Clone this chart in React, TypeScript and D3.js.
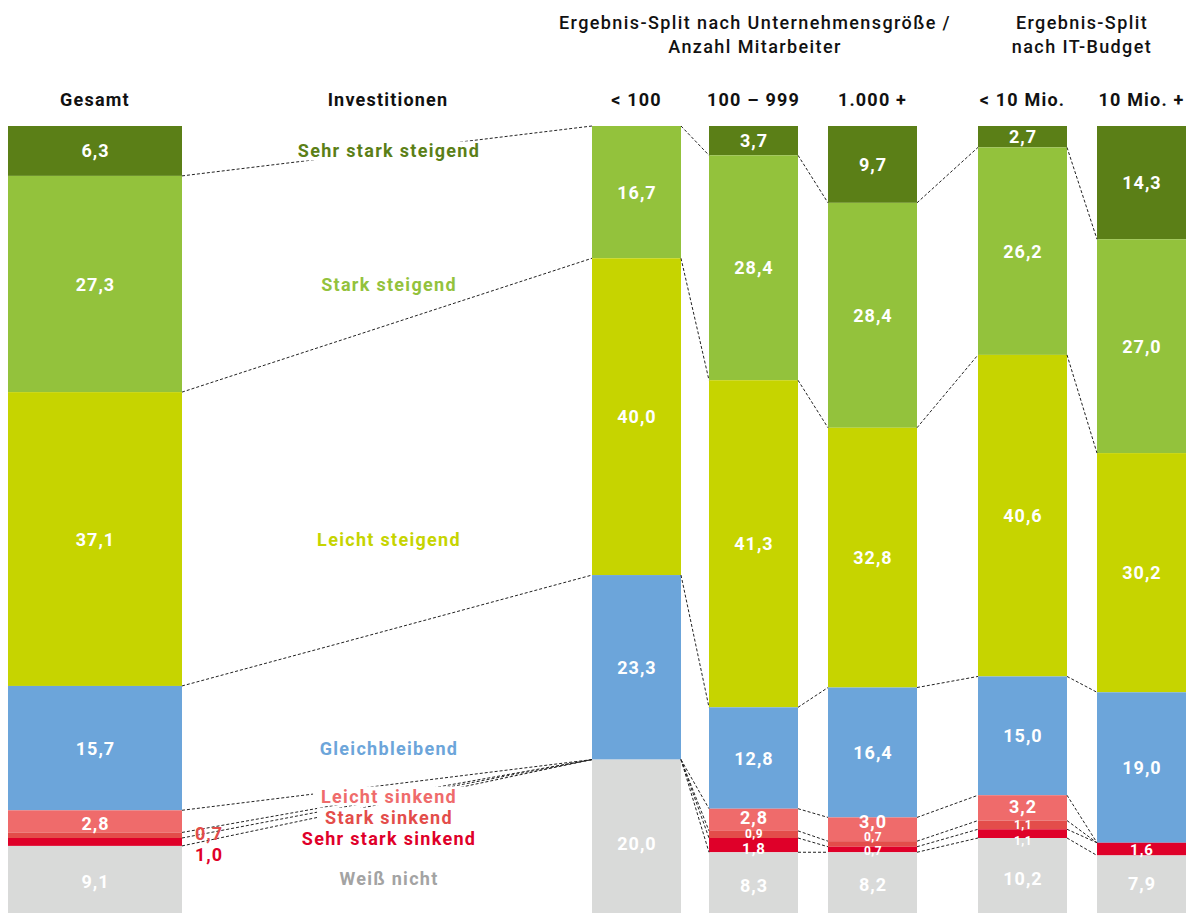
import React, { useEffect, useRef } from "react";
import * as d3 from "d3";

// ---- Data ----
const categories = [
  "Sehr stark steigend",
  "Stark steigend",
  "Leicht steigend",
  "Gleichbleibend",
  "Leicht sinkend",
  "Stark sinkend",
  "Sehr stark sinkend",
  "Weiß nicht",
];
const columns = ["Gesamt", "< 100", "100 – 999", "1.000 +", "< 10 Mio.", "10 Mio. +"];
const gesamt = [6.3, 27.3, 37.1, 15.7, 2.8, 0.7, 1.0, 9.1];
const under100 = [0, 16.7, 40.0, 23.3, 0, 0, 0, 20.0];
const from100to999 = [3.7, 28.4, 41.3, 12.8, 2.8, 0.9, 1.8, 8.3];
const over1000 = [9.7, 28.4, 32.8, 16.4, 3.0, 0.7, 0.7, 8.2];
const budgetUnder10 = [2.7, 26.2, 40.6, 15.0, 3.2, 1.1, 1.1, 10.2];
const budgetOver10 = [14.3, 27.0, 30.2, 19.0, 0, 0, 1.6, 7.9];
const seriesByColumn = [gesamt, under100, from100to999, over1000, budgetUnder10, budgetOver10];
const groupTitles = [
  ["Ergebnis-Split nach Unternehmensgröße /", "Anzahl Mitarbeiter"],
  ["Ergebnis-Split", "nach IT-Budget"],
];
const middleTitle = "Investitionen";

// ---- Layout / style ----
const W = 1190;
const H = 913;
const colLeft = [8, 592, 709, 828, 978, 1097];
const colWidth = [174, 89, 89, 89, 89, 89];
const colors = ["#5b7f17", "#93c23c", "#c6d400", "#6ca5da", "#ef6b6b", "#e34d4a", "#df0029", "#d9dad9"];
const labelColors = ["#5b7f17", "#93c23c", "#c6d400", "#6ca5da", "#ef6b6b", "#e34d4a", "#df0029", "#a3a3a3"];
const nudges = [
  [0, 0, 0, 0, 2, -2, 13, 0],
  [0, 0, 0, 0, 0, 0, 0, 5],
  [0, 0, 0, 0, -2, 0, 4, 0],
  [0, 0, 0, 0, -8, -7, 2, 0],
  [0, 0, 0, 0, -1, 0, 7, 0],
  [0, 0, 0, 0, 0, 0, 1, -3],
];
const catLabelY = [null, null, null, null, 796, 817, 838, 878];
const FONT = "Roboto, 'DejaVu Sans', sans-serif";

export default function App() {
  const ref = useRef<SVGSVGElement>(null);
  useEffect(() => {
    const svg = d3.select(ref.current);
    svg.selectAll("*").remove();
    const y = d3.scaleLinear().domain([0, 100]).range([126, 918]);
    const cums = seriesByColumn.map((s) => {
      const c = [0];
      s.forEach((v) => c.push(c[c.length - 1] + v));
      return c;
    });

    // bars
    seriesByColumn.forEach((s, ci) => {
      const g = svg.append("g");
      g.selectAll("rect")
        .data(s)
        .join("rect")
        .attr("x", colLeft[ci])
        .attr("width", colWidth[ci])
        .attr("y", (_, k) => y(cums[ci][k]))
        .attr("height", (v) => y(v) - y(0))
        .attr("fill", (_, k) => colors[k]);
    });

    // connectors
    const lines = svg.append("g");
    for (let ci = 0; ci < seriesByColumn.length - 1; ci++) {
      for (let k = 1; k < categories.length; k++) {
        lines
          .append("line")
          .attr("x1", colLeft[ci] + colWidth[ci])
          .attr("y1", y(cums[ci][k]))
          .attr("x2", colLeft[ci + 1])
          .attr("y2", y(cums[ci + 1][k]))
          .attr("stroke", "#222")
          .attr("stroke-width", 1)
          .attr("stroke-dasharray", "3,2");
      }
    }

    // value labels
    const fmt = (v: number) => v.toFixed(1).replace(".", ",");
    seriesByColumn.forEach((s, ci) => {
      s.forEach((v, k) => {
        if (v <= 0) return;
        const cy = (y(cums[ci][k]) + y(cums[ci][k + 1])) / 2 + nudges[ci][k];
        const outside = ci === 0 && v < 1.5;
        const size = outside ? 18 : v < 1.5 ? 12 : v < 2 ? 15 : 18;
        svg
          .append("text")
          .attr("x", outside ? colLeft[ci] + colWidth[ci] + 13 : colLeft[ci] + colWidth[ci] / 2 + 0.5)
          .attr("y", cy)
          .attr("text-anchor", outside ? "start" : "middle")
          .attr("dominant-baseline", "central")
          .attr("font-family", FONT)
          .attr("font-weight", 700)
          .attr("font-size", size)
          .attr("letter-spacing", size > 14 ? 1 : 0.5)
          .attr("fill", outside ? labelColors[k] : "#fff")
          .text(fmt(v));
      });
    });

    // category labels (with white background)
    const catX = 389;
    categories.forEach((c, k) => {
      const cy = catLabelY[k] ?? (y(cums[0][k]) + y(cums[0][k + 1])) / 2;
      const bg = svg.append("rect").attr("fill", "#fff");
      const t = svg
        .append("text")
        .attr("x", catX)
        .attr("y", cy)
        .attr("text-anchor", "middle")
        .attr("dominant-baseline", "central")
        .attr("font-family", FONT)
        .attr("font-weight", 700)
        .attr("font-size", 18)
        .attr("letter-spacing", 1.3)
        .attr("fill", labelColors[k])
        .text(c);
      const bb = (t.node() as SVGTextElement).getBBox();
      bg.attr("x", bb.x - 8).attr("y", bb.y + 1).attr("width", bb.width + 16).attr("height", bb.height - 2);
    });

    // headers
    const header = (x: number, yy: number, txt: string, weight = 700, ls = 1.2) =>
      svg
        .append("text")
        .attr("x", x)
        .attr("y", yy)
        .attr("text-anchor", "middle")
        .attr("dominant-baseline", "central")
        .attr("font-family", FONT)
        .attr("font-weight", weight)
        .attr("font-size", 18)
        .attr("letter-spacing", ls)
        .attr("fill", "#111")
        .text(txt);
    columns.forEach((c, ci) => header(colLeft[ci] + colWidth[ci] / 2, 99, c));
    header(388, 99, middleTitle);
    header(755, 22, groupTitles[0][0], 500, 1.4);
    header(755, 46, groupTitles[0][1], 500, 1.4);
    header(1082, 22, groupTitles[1][0], 500, 1.4);
    header(1082, 46, groupTitles[1][1], 500, 1.4);
  }, []);

  return (
    <svg
      ref={ref}
      width={W}
      height={H}
      style={{ position: "absolute", left: 0, top: 0, background: "#fff", overflow: "hidden" }}
    />
  );
}
